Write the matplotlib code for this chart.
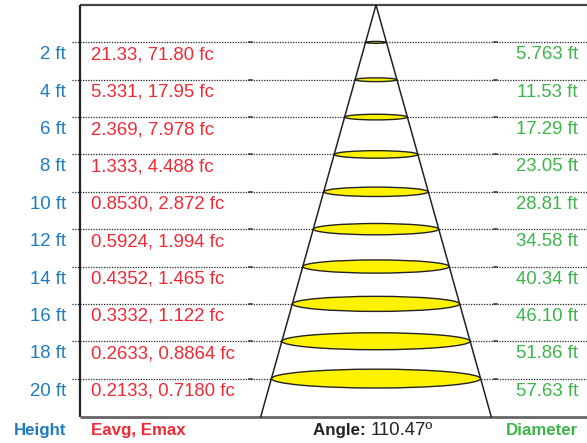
import matplotlib
matplotlib.use("Agg")
import matplotlib.pyplot as plt
from matplotlib.patches import Ellipse
import numpy as np

# ---- data ----
heights_ft = [2, 4, 6, 8, 10, 12, 14, 16, 18, 20]
eavg_fc = [21.33, 5.331, 2.369, 1.333, 0.8530, 0.5924, 0.4352, 0.3332, 0.2633, 0.2133]
emax_fc = [71.80, 17.95, 7.978, 4.488, 2.872, 1.994, 1.465, 1.122, 0.8864, 0.7180]
diameter_ft = [5.763, 11.53, 17.29, 23.05, 28.81, 34.58, 40.34, 46.10, 51.86, 57.63]
beam_angle = 110.47

BLUE = "#1f7bc1"
RED = "#ee2a35"
GREEN = "#3db54a"
FONT = "Liberation Sans"
FS = 13.4
FSB = 12.2

W, H = 587, 443
fig = plt.figure(figsize=(W / 100, H / 100), dpi=100)
ax = fig.add_axes([0, 0, 1, 1])
ax.set_axis_off()

# scales: px per ft
sx = 3.63
sy = 18.68
apex_px = (376, 5)


def X(px):
    return (px - apex_px[0]) / sx


def Y(py):
    return (py - apex_px[1]) / sy


ax.set_xlim(X(0), X(W))
ax.set_ylim(Y(H), Y(0))

top, bottom = Y(5), Y(417)
left = X(80)

# box
ax.plot([left, X(W)], [top, top], color="#444444", lw=1.6, solid_capstyle="butt")
ax.plot([left, left], [top, bottom], color="#222222", lw=1.6, solid_capstyle="butt")
ax.plot([left, X(W)], [bottom, bottom], color="#666666", lw=2.0, solid_capstyle="butt")

half_tan = np.tan(np.radians(beam_angle / 2))
# triangle
ax.plot([-half_tan * bottom, 0, half_tan * bottom], [bottom, 0, bottom],
        color="#222222", lw=1.1, zorder=4)

for i, h in enumerate(heights_ft):
    hw = h * half_tan
    # dotted line
    ax.plot([X(72), -hw], [h, h], color="#222222", lw=0.9, ls=(0, (1, 1.1)), zorder=1)
    ax.plot([hw, X(W)], [h, h], color="#222222", lw=0.9, ls=(0, (1, 1.1)), zorder=1)
    for tp in (251, 496):
        ax.plot([X(tp - 1.5), X(tp + 1.5)], [h, h], color="#333333", lw=1.1, zorder=1)
    d = diameter_ft[i]
    wpx = d * sx
    e = Ellipse((0, h), d, 0.09 * wpx / sy, facecolor="#fff200", edgecolor="#222222",
                lw=1.0, zorder=3)
    ax.add_patch(e)
    ty = h + 12.5 / sy
    ax.text(X(66), ty, f"{h} ft", color=BLUE, fontsize=FS, family=FONT,
            ha="right", va="center")
    ax.text(X(91), ty, f"{eavg_fc[i]:#.4g}, {emax_fc[i]:#.4g} fc", color=RED, fontsize=FS,
            family=FONT, ha="left", va="center")
    ax.text(X(578), ty, f"{d:#.4g} ft", color=GREEN, fontsize=FS, family=FONT,
            ha="right", va="center")

by = Y(431)
ax.text(X(66), by, "Height", color=BLUE, fontsize=FSB, family=FONT, weight="bold",
        ha="right", va="center")
ax.text(X(91), by, "Eavg, Emax", color=RED, fontsize=FSB, family=FONT, weight="bold",
        ha="left", va="center")
ax.text(X(578), by, "Diameter", color=GREEN, fontsize=FSB, family=FONT, weight="bold",
        ha="right", va="center")
t1 = ax.text(X(313), by, "Angle: ", color="#222222", fontsize=FSB, family=FONT,
             weight="bold", ha="left", va="center")
ax.annotate(f"{beam_angle:.2f}º", xycoords=t1, xy=(1, 0.5), va="center", ha="left",
            color="#222222", fontsize=FS, family=FONT)

fig.savefig("out.png", dpi=100)
